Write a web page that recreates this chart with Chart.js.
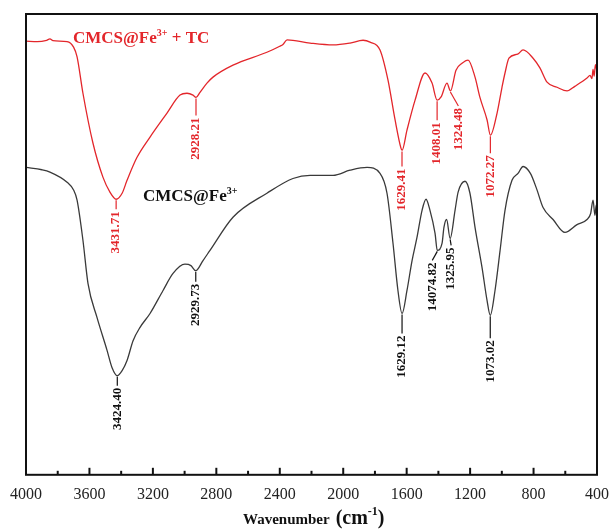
<!DOCTYPE html>
<html>
<head>
<meta charset="utf-8">
<script src="https://cdn.jsdelivr.net/npm/chart.js@4.4.1/dist/chart.umd.min.js"></script>
<style>
  body { margin: 0; background: #fff; }
  #wrap { width: 611px; height: 530px; }
</style>
</head>
<body>
<div id="wrap"><canvas id="myChart" width="611" height="530"></canvas></div>
<script>
// FTIR spectra, wavenumber (cm-1) vs transmittance (arbitrary units)
const redWavenumber = [4000, 3930, 3870, 3849, 3830, 3741, 3700, 3678, 3641, 3578,
  3515, 3470, 3432, 3394, 3363, 3300, 3218, 3111, 3029, 2985,
  2947, 2928, 2903, 2859, 2821, 2695, 2481, 2400, 2380, 2354,
  2209, 2064, 1957, 1875, 1831, 1768, 1718, 1673, 1636, 1629,
  1598, 1547, 1484, 1440, 1408, 1383, 1346, 1324, 1289, 1251,
  1213, 1169, 1138, 1093, 1072, 1030, 999, 980, 955, 900,
  866, 803, 760, 715, 652, 589, 540, 463, 444, 432,
  425, 418, 410, 400];
const redValues = [94.1, 94.0, 94.3, 94.6, 94.2, 94.0, 92.8, 90.7, 82.8, 72.0,
  64.6, 61.3, 59.8, 61.1, 63.9, 68.9, 73.3, 78.5, 82.4, 82.8,
  82.4, 81.9, 83.0, 85.0, 86.3, 88.9, 91.7, 93.0, 93.4, 94.4,
  93.7, 93.3, 93.7, 94.3, 93.9, 92.2, 85.7, 77.0, 70.9, 70.4,
  74.8, 81.3, 87.2, 85.0, 81.3, 82.0, 85.0, 83.3, 87.8, 89.3,
  90.0, 86.3, 81.9, 77.0, 73.7, 78.5, 84.1, 87.2, 90.4, 91.3,
  92.2, 90.4, 88.3, 85.2, 84.1, 83.3, 84.3, 86.1, 86.7, 86.0,
  88.0, 86.5, 89.0, 87.5];

const blackWavenumber = [4000, 3900, 3849, 3741, 3700, 3678, 3641, 3609, 3552, 3489,
  3458, 3424, 3394, 3363, 3325, 3281, 3218, 3136, 3073, 2998,
  2960, 2930, 2884, 2840, 2695, 2481, 2317, 2209, 2064, 1957,
  1850, 1768, 1724, 1686, 1655, 1629, 1598, 1566, 1535, 1503,
  1478, 1453, 1421, 1407, 1377, 1365, 1348, 1326, 1295, 1276,
  1232, 1201, 1169, 1125, 1093, 1073, 1043, 1011, 980, 936,
  898, 866, 820, 780, 740, 677, 602, 526, 463, 440,
  425, 413, 405, 400];
const blackValues = [66.7, 66.2, 65.7, 63.5, 61.8, 59.6, 50.9, 41.5, 34.1, 27.0,
  23.3, 21.5, 22.6, 24.8, 29.1, 32.0, 35.0, 40.0, 43.7, 45.7,
  45.4, 44.3, 46.5, 48.7, 55.9, 61.1, 64.3, 65.0, 65.0, 66.1,
  66.7, 65.4, 61.1, 50.2, 40.0, 35.0, 40.0, 46.5, 51.5, 57.4,
  59.8, 57.4, 52.4, 48.7, 50.2, 53.7, 55.4, 51.3, 57.4, 61.3,
  63.7, 61.1, 53.7, 45.0, 37.8, 34.6, 40.0, 48.7, 57.4, 63.9,
  65.4, 66.9, 65.4, 62.0, 58.0, 55.4, 52.6, 54.3, 55.4, 56.7,
  59.6, 56.3, 58.5, 57.4];

const redPeaks = [3431.71, 2928.21, 1629.41, 1408.01, 1324.48, 1072.27];
const redPeakLabels = ['3431.71', '2928.21', '1629.41', '1408.01', '1324.48', '1072.27'];
const blackPeaks = [3424.40, 2929.73, 1629.12, 1407, 1325.95, 1073.02];
const blackPeakLabels = ['3424.40', '2929.73', '1629.12', '14074.82', '1325.95', '1073.02'];

const xTicks = [400, 800, 1200, 1600, 2000, 2400, 2800, 3200, 3600, 4000];

const RED = '#e3262b';
const DARK = '#3a3a3a';
const SERIF = '"Liberation Serif", "Times New Roman", serif';

function toPoints(xs, ys) {
  return xs.map((x, i) => ({ x: x, y: ys[i] }));
}

// gap = distance from curve to start of label, dx = sideways shift of label
const peakStyle = [
  { ds: 0, peaks: redPeaks, labels: redPeakLabels, color: RED,
    gap: [12, 20, 18, 22, 17, 20], dx: [0, 0, 0, 0, 8, 0] },
  { ds: 1, peaks: blackPeaks, labels: blackPeakLabels, color: '#111',
    gap: [12, 13, 22, 12, 9, 25], dx: [0, 0, 0, -5, 1, 0] }
];

const decorations = {
  id: 'decorations',
  afterDraw(chart) {
    const ctx = chart.ctx;
    const area = chart.chartArea;
    const xs = chart.scales.x;

    ctx.save();
    // frame
    ctx.strokeStyle = '#111';
    ctx.lineWidth = 2;
    ctx.strokeRect(area.left, area.top, area.right - area.left, area.bottom - area.top);

    // inward ticks, major every 400, minor every 200
    ctx.lineWidth = 2;
    for (let v = 400; v <= 4000; v += 200) {
      const px = xs.getPixelForValue(v);
      const len = (v % 400 === 0) ? 7 : 4;
      ctx.beginPath();
      ctx.moveTo(px, area.bottom);
      ctx.lineTo(px, area.bottom - len);
      ctx.stroke();
    }

    // peak labels
    ctx.font = 'bold 13px ' + SERIF;
    peakStyle.forEach(set => {
      const pts = chart.getDatasetMeta(set.ds).data;
      set.peaks.forEach((wn, i) => {
        const px = xs.getPixelForValue(wn);
        let best = pts[0];
        pts.forEach(p => { if (Math.abs(p.x - px) < Math.abs(best.x - px)) best = p; });
        const py = best.y;
        const tx = px + set.dx[i];
        const ty = py + set.gap[i];
        ctx.strokeStyle = set.color;
        ctx.lineWidth = 1.2;
        ctx.beginPath();
        ctx.moveTo(px, py + 1);
        ctx.lineTo(tx, ty - 2);
        ctx.stroke();
        ctx.save();
        ctx.translate(tx, ty);
        ctx.rotate(-Math.PI / 2);
        ctx.fillStyle = set.color;
        ctx.textAlign = 'right';
        ctx.textBaseline = 'middle';
        ctx.fillText(set.labels[i], 0, 0);
        ctx.restore();
      });
    });

    // series names
    function name(x, y, color, base, sup, tail) {
      ctx.fillStyle = color;
      ctx.textBaseline = 'alphabetic';
      ctx.textAlign = 'left';
      ctx.font = 'bold 17px ' + SERIF;
      ctx.fillText(base, x, y);
      let w = ctx.measureText(base).width;
      ctx.font = 'bold 10px ' + SERIF;
      ctx.fillText(sup, x + w, y - 7);
      w += ctx.measureText(sup).width;
      if (tail) {
        ctx.font = 'bold 17px ' + SERIF;
        ctx.fillText(tail, x + w, y);
      }
    }
    name(73, 43, RED, 'CMCS@Fe', '3+', ' + TC');
    name(143, 201, '#111', 'CMCS@Fe', '3+', '');

    // x axis title
    ctx.fillStyle = '#111';
    ctx.font = 'bold 15px ' + SERIF;
    ctx.textAlign = 'left';
    ctx.textBaseline = 'alphabetic';
    let x = 243, y = 524;
    ctx.fillText('Wavenumber', x, y);
    x += ctx.measureText('Wavenumber').width + 6;
    ctx.font = 'bold 20px ' + SERIF;
    ctx.fillText('(cm', x, y);
    x += ctx.measureText('(cm').width;
    ctx.font = 'bold 12px ' + SERIF;
    ctx.fillText('-1', x, y - 9);
    x += ctx.measureText('-1').width;
    ctx.font = 'bold 20px ' + SERIF;
    ctx.fillText(')', x, y);
    ctx.restore();
  }
};

const ctx = document.getElementById('myChart').getContext('2d');
const myChart = new Chart(ctx, {
  type: 'line',
  data: {
    datasets: [{
      label: 'CMCS@Fe3+ + TC',
      data: toPoints(redWavenumber, redValues),
      borderColor: RED,
      borderWidth: 1.3,
      pointRadius: 0,
      cubicInterpolationMode: 'monotone'
    }, {
      label: 'CMCS@Fe3+',
      data: toPoints(blackWavenumber, blackValues),
      borderColor: DARK,
      borderWidth: 1.3,
      pointRadius: 0,
      cubicInterpolationMode: 'monotone'
    }]
  },
  options: {
    responsive: false,
    animation: false,
    layout: { padding: { left: 26, top: 14, right: 14, bottom: 16 } },
    plugins: { legend: { display: false }, tooltip: { enabled: false } },
    scales: {
      x: {
        type: 'linear',
        reverse: true,
        min: 400,
        max: 4000,
        afterBuildTicks: axis => { axis.ticks = xTicks.map(v => ({ value: v })); },
        afterFit: axis => { axis.paddingLeft = 0; axis.paddingRight = 0; },
        grid: { display: false, drawTicks: false },
        border: { display: false },
        ticks: {
          color: '#222',
          padding: 10,
          maxRotation: 0,
          autoSkip: false,
          font: { family: SERIF, size: 16 },
          callback: v => String(v)
        }
      },
      y: {
        display: false,
        min: 0,
        max: 100
      }
    }
  },
  plugins: [decorations]
});
</script>
</body>
</html>
